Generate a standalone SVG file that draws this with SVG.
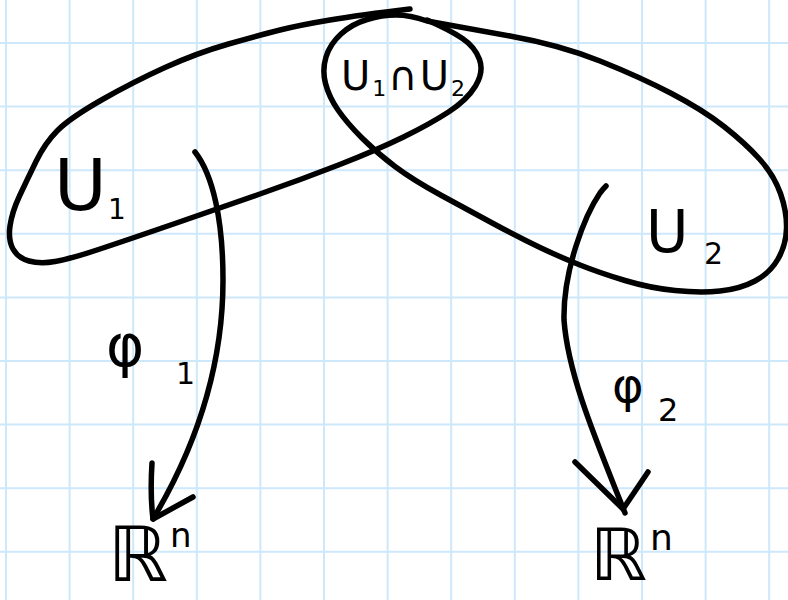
<svg xmlns="http://www.w3.org/2000/svg" width="788" height="600" viewBox="0 0 788 600">
  <style>
    .grid { stroke: #cde8fb; stroke-width: 2; fill: none; }
    .ink { stroke: #000; stroke-width: 5.5; fill: none; stroke-linecap: round; stroke-linejoin: round; }
    .lbl { font-family: "DejaVu Sans", "Noto Sans", sans-serif; fill: #000; }
  </style>

  <!-- graph paper -->
  <rect x="0" y="0" width="788" height="600" fill="#fff"/>
  <g id="grid">
    <path class="grid" d="M6,0V600 M69.6,0V600 M133.2,0V600 M196.8,0V600 M260.4,0V600 M324,0V600 M387.6,0V600 M451.2,0V600 M514.8,0V600 M578.4,0V600 M642,0V600 M705.6,0V600 M769.2,0V600
      M0,43H788 M0,106.6H788 M0,170.2H788 M0,233.8H788 M0,297.4H788 M0,361H788 M0,424.6H788 M0,488.2H788 M0,551.8H788"/>
  </g>

  <!-- open set U1 -->
  <g id="U1">
    <path class="ink" d="M410,9 Q360,15 330,20 Q300,25 280,30 Q260,35 228.5,44 Q197,53 165,67.5 Q133,82 101.5,100 Q70,118 57.5,130.5 Q45,143 36,161.5 Q27,180 19.5,196 Q12,212 10,226 Q8,240 13,249 Q18,258 29,261 Q40,264 55,261.5 Q70,259 101.5,248.5 Q133,238 175,223.5 Q217,209 258.5,194.5 Q300,180 338.5,165 Q377,150 403.5,137 Q430,124 448.5,112 Q467,100 475.5,86 Q484,72 479.5,59.5 Q475,47 462.5,38.5 Q450,30 427,20"/>
    <text class="lbl" x="54" y="210" font-size="72">U</text>
    <text class="lbl" x="108" y="219" font-size="28">1</text>
  </g>

  <!-- open set U2 -->
  <g id="U2">
    <path class="ink" d="M427,21 Q460,27 510,36 Q560,45 600,61 Q640,77 671.5,93.5 Q703,110 724,126.5 Q745,143 759.5,159 Q774,175 780.5,193.5 Q787,212 786.5,228.5 Q786,245 778,259 Q770,273 755,281 Q740,289 720,291 Q700,293 675,290.5 Q650,288 625,280.5 Q600,273 580,265 Q560,257 540,247.5 Q520,238 495,224.5 Q470,211 441.5,195.5 Q413,180 395,166.5 Q377,153 362,138 Q347,123 338,110 Q329,97 325.5,83.5 Q322,70 326,57 Q330,44 341,34 Q352,24 367,19.5 Q382,15 396,15 Q410,15 427,21"/>
    <text class="lbl" x="646" y="252" font-size="58">U</text>
    <text class="lbl" x="704" y="264" font-size="30">2</text>
  </g>

  <!-- overlap label -->
  <g id="U1capU2">
    <text class="lbl" x="341" y="90" font-size="40" textLength="124" lengthAdjust="spacing">U<tspan font-size="22" dy="6">1</tspan><tspan dy="-6">∩U</tspan><tspan font-size="22" dy="6">2</tspan></text>
  </g>

  <!-- targets -->
  <g id="Rn1">
    <text class="lbl" x="108" y="581" font-size="76">ℝ</text>
    <text class="lbl" x="170" y="547" font-size="34">n</text>
  </g>
  <g id="Rn2">
    <text class="lbl" x="590" y="580" font-size="72">ℝ</text>
    <text class="lbl" x="650" y="550" font-size="36">n</text>
  </g>

  <!-- chart maps -->
  <g id="connectors">
    <g id="phi1">
      <path class="ink" d="M195,152 C213,175 223,220 223,280 C223,360 200,440 153,519"/>
      <path class="ink" d="M152,463 Q150,495 153,519 L193,497"/>
      <text class="lbl" x="106" y="366" font-size="58">φ</text>
      <text class="lbl" x="176" y="384" font-size="30">1</text>
    </g>
    <g id="phi2">
      <path class="ink" d="M606,186 Q603,189 600,193 C585,215 563,270 564,320 C568,375 596,440 625,513"/>
      <path class="ink" d="M575,462 L623,509 L648,472"/>
      <text class="lbl" x="612" y="402" font-size="48">φ</text>
      <text class="lbl" x="658" y="421" font-size="32">2</text>
    </g>
  </g>
</svg>
